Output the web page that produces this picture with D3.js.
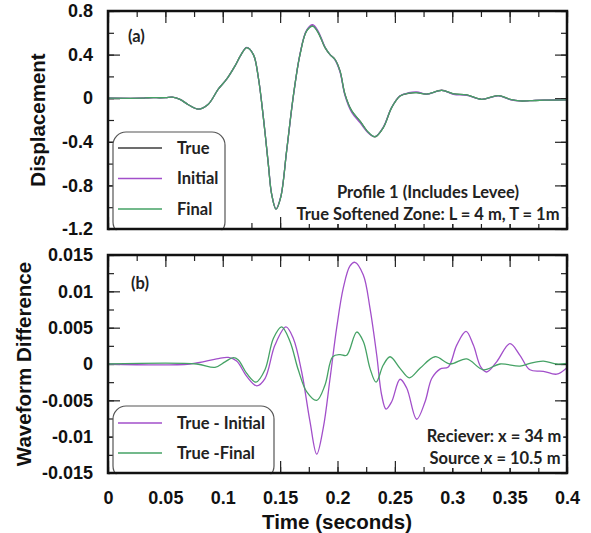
<!DOCTYPE html>
<html>
<head>
<meta charset="utf-8">
<script src="https://cdn.jsdelivr.net/npm/d3@7"></script>
<style>
  body { margin: 0; background: #fff; }
  svg { display: block; }
  .tick text { font-family: 'Liberation Sans', Arial, sans-serif; font-weight: bold; font-size: 18px; fill: #111; }
  .tick line { stroke: #222; stroke-width: 1.2px; }
  .axis-title { font-family: 'Liberation Sans', Arial, sans-serif; font-weight: bold; font-size: 20.5px; fill: #111; }
  .note { font-family: Lato, 'Open Sans', sans-serif; font-weight: bold; font-size: 16.5px; fill: #222; }
</style>
</head>
<body>
<div id="chart"></div>
<script>
// ---- data ----
// panel (a): displacement traces
const timeA = [0, 0.03, 0.035, 0.05, 0.056, 0.0627, 0.07, 0.0787, 0.0874, 0.0961, 0.1034, 0.1107, 0.116, 0.1209, 0.1267, 0.131, 0.1354, 0.1397, 0.1426, 0.1464, 0.1505, 0.1557, 0.1615, 0.1673, 0.1731, 0.1784, 0.1833, 0.1891, 0.1935, 0.1978, 0.2022, 0.2065, 0.2124, 0.2196, 0.2269, 0.2327, 0.2399, 0.2472, 0.2545, 0.262, 0.269, 0.2777, 0.2908, 0.301, 0.3126, 0.3256, 0.3401, 0.3503, 0.359, 0.3677, 0.38, 0.4];
const trueDisp = [0, 0, 0.004, 0.005, 0.01, -0.01, -0.06, -0.10, -0.055, 0.083, 0.174, 0.296, 0.40, 0.464, 0.40, 0.19, -0.178, -0.605, -0.88, -1.018, -0.91, -0.48, 0.02, 0.40, 0.617, 0.663, 0.60, 0.464, 0.40, 0.357, 0.25, 0.037, -0.117, -0.21, -0.315, -0.355, -0.27, -0.086, 0.02, 0.045, 0.051, 0.037, 0.073, 0.04, 0.03, -0.01, 0.024, -0.01, -0.025, -0.023, -0.018, -0.016];
const initialDisp = [0, 0, 0.004, 0.005, 0.01, -0.01, -0.06, -0.10, -0.055, 0.083, 0.174, 0.296, 0.40, 0.466, 0.40, 0.19, -0.176, -0.60, -0.877, -1.015, -0.905, -0.483, 0.015, 0.405, 0.625, 0.674, 0.612, 0.47, 0.40, 0.352, 0.24, 0.025, -0.13, -0.224, -0.32, -0.352, -0.265, -0.084, 0.022, 0.05, 0.058, 0.037, 0.071, 0.036, 0.026, -0.01, 0.021, -0.012, -0.025, -0.022, -0.017, -0.016];
const finalDisp = [0, 0, 0.004, 0.005, 0.01, -0.01, -0.06, -0.10, -0.055, 0.083, 0.174, 0.296, 0.40, 0.464, 0.40, 0.19, -0.178, -0.605, -0.88, -1.018, -0.91, -0.48, 0.02, 0.40, 0.617, 0.66, 0.60, 0.466, 0.40, 0.355, 0.248, 0.035, -0.117, -0.21, -0.313, -0.353, -0.27, -0.086, 0.02, 0.046, 0.051, 0.037, 0.072, 0.04, 0.03, -0.01, 0.024, -0.01, -0.025, -0.023, -0.018, -0.016];

// panel (b): waveform differences
const timeInit = [0, 0.0715, 0.0947, 0.1049, 0.1121, 0.1209, 0.1296, 0.1368, 0.1455, 0.1551, 0.1615, 0.1688, 0.176, 0.1819, 0.1876, 0.1935, 0.1993, 0.2051, 0.2109, 0.2152, 0.2225, 0.2283, 0.2342, 0.2385, 0.2423, 0.2472, 0.2545, 0.2603, 0.269, 0.2763, 0.2821, 0.2893, 0.2966, 0.3039, 0.312, 0.3184, 0.3248, 0.33, 0.3387, 0.3503, 0.359, 0.3677, 0.3794, 0.391, 0.4];
const diffInit = [0, 0, 0.0007, 0.0009, 0.0004, -0.0017, -0.003, -0.002, 0.0026, 0.0051, 0.0035, -0.0011, -0.0079, -0.0124, -0.0088, -0.002, 0.005, 0.0105, 0.0135, 0.014, 0.01225, 0.0077, 0.0012, -0.0043, -0.0062, -0.0052, -0.0021, -0.0033, -0.0076, -0.0052, -0.002, -0.0007, -0.0004, 0.0026, 0.0045, 0.0026, -0.0004, -0.0011, 0.0003, 0.0028, 0.0012, -0.0008, -0.001, -0.0014, -0.0005];
const timeFinal = [0, 0.0773, 0.0932, 0.102, 0.1092, 0.1136, 0.1209, 0.129, 0.1368, 0.1441, 0.1513, 0.1586, 0.1658, 0.1731, 0.1819, 0.1891, 0.1958, 0.2022, 0.208, 0.2167, 0.2225, 0.2283, 0.2336, 0.2399, 0.2458, 0.2545, 0.2626, 0.2719, 0.285, 0.298, 0.3126, 0.327, 0.3416, 0.359, 0.3677, 0.3794, 0.391, 0.4];
const diffFinal = [0, 0, -0.00046, 0.0003, 0.00087, 0.00055, -0.0013, -0.0025, -0.0008, 0.0035, 0.0051, 0.0031, -0.0008, -0.0038, -0.005, -0.0029, 0.001, 0.0013, 0.0012, 0.0044, 0.0031, -0.0006, -0.0025, -0.00014, 0.001, -0.0006, -0.0019, -0.0006, 0.001, 0, 0.0007, -0.0008, 0, -0.0003, 0.0001, 0.0004, 0, 0.0001];

// tick labels
const xTicks = [0, 0.05, 0.1, 0.15, 0.2, 0.25, 0.3, 0.35, 0.4];
const xTickLabels = ['0', '0.05', '0.1', '0.15', '0.2', '0.25', '0.3', '0.35', '0.4'];
const yTicksA = [0.8, 0.4, 0, -0.4, -0.8, -1.2];
const yTickLabelsA = ['0.8', '0.4', '0', '-0.4', '-0.8', '-1.2'];
const yTicksB = [0.015, 0.01, 0.005, 0, -0.005, -0.01, -0.015];
const yTickLabelsB = ['0.015', '0.01', '0.005', '0', '-0.005', '-0.01', '-0.015'];

const colors = { truth: '#3d3d3d', initial: '#a24fca', final: '#45a265' };

const W = 591, H = 533;
const left = 108, right = 567;

const svg = d3.select('#chart').append('svg')
  .attr('width', W)
  .attr('height', H);

const x = d3.scaleLinear().domain([0, 0.4]).range([left, right]);

function drawPanel(cfg) {
  const y = d3.scaleLinear().domain(cfg.domain).range([cfg.bottom, cfg.top]);
  const g = svg.append('g');
  const minorX = d3.range(0, 0.4001, 0.025);
  const minorY = d3.range(cfg.domain[0], cfg.domain[1] + cfg.minor / 2, cfg.minor);

  // inward ticks on all four sides
  const addAxis = (axis, transform) => {
    const a = g.append('g').attr('transform', transform).call(axis);
    a.select('.domain').remove();
    return a;
  };
  addAxis(d3.axisBottom(x).tickValues(minorX).tickSize(-6).tickFormat(''), `translate(0,${cfg.bottom})`);
  addAxis(d3.axisTop(x).tickValues(minorX).tickSize(-6).tickFormat(''), `translate(0,${cfg.top})`);
  addAxis(d3.axisTop(x).tickValues(xTicks).tickSize(-12).tickFormat(''), `translate(0,${cfg.top})`);
  addAxis(d3.axisBottom(x).tickValues(xTicks).tickSize(-12).tickPadding(18)
    .tickFormat((d, i) => cfg.showX ? xTickLabels[i] : ''), `translate(0,${cfg.bottom})`);

  addAxis(d3.axisLeft(y).tickValues(minorY).tickSize(-6).tickFormat(''), `translate(${left},0)`);
  addAxis(d3.axisRight(y).tickValues(minorY).tickSize(-6).tickFormat(''), `translate(${right},0)`);
  addAxis(d3.axisRight(y).tickValues(cfg.ticks).tickSize(-12).tickFormat(''), `translate(${right},0)`);
  addAxis(d3.axisLeft(y).tickValues(cfg.ticks).tickSize(-12).tickPadding(15)
    .tickFormat((d, i) => cfg.tickLabels[i]), `translate(${left},0)`);

  // traces
  const line = d3.line()
    .x(d => x(d[0]))
    .y(d => y(d[1]))
    .curve(d3.curveCatmullRom.alpha(0.5));

  const clipId = 'clip-' + cfg.name;
  svg.append('clipPath').attr('id', clipId)
    .append('rect').attr('x', left).attr('y', cfg.top).attr('width', right - left).attr('height', cfg.bottom - cfg.top);

  cfg.series.forEach(s => {
    g.append('path')
      .datum(d3.zip(s.t, s.v))
      .attr('clip-path', `url(#${clipId})`)
      .attr('fill', 'none')
      .attr('stroke', s.color)
      .attr('stroke-width', 1.3)
      .attr('d', line);
  });

  // legend box
  const lg = g.append('g');
  lg.append('rect')
    .attr('x', 113).attr('y', cfg.legend.y)
    .attr('width', cfg.legend.w).attr('height', cfg.bottom - cfg.legend.y + 6)
    .attr('rx', 13)
    .attr('fill', '#fff')
    .attr('stroke', '#555')
    .attr('stroke-width', 1.2);
  // cover the part below the frame
  lg.append('rect').attr('x', 110).attr('y', cfg.bottom + 1.2).attr('width', cfg.legend.w + 10).attr('height', 8).attr('fill', '#fff');
  cfg.series.filter(s => s.label).forEach((s, i) => {
    const ly = cfg.legend.first + i * cfg.legend.step;
    lg.append('line')
      .attr('x1', 118).attr('x2', 162)
      .attr('y1', ly).attr('y2', ly)
      .attr('stroke', s.color).attr('stroke-width', 1.3);
    lg.append('text').attr('class', 'note')
      .attr('x', 177).attr('y', ly + 5.5)
      .text(s.label);
  });

  g.append('text').attr('class', 'note')
    .attr('x', cfg.tag.x).attr('y', cfg.tag.y)
    .text(cfg.tag.text);

  // annotations get a white box so the inner ticks don't run through them
  cfg.notes.forEach(n => {
    const bg = g.append('rect').attr('fill', '#fff');
    const t = g.append('text').attr('class', 'note')
      .attr('x', n.x).attr('y', n.y)
      .attr('text-anchor', 'middle')
      .text(n.text);
    const b = t.node().getBBox();
    bg.attr('x', b.x - 2).attr('y', b.y).attr('width', b.width + 4).attr('height', b.height);
  });

  // frame
  g.append('rect')
    .attr('x', left).attr('y', cfg.top)
    .attr('width', right - left).attr('height', cfg.bottom - cfg.top)
    .attr('fill', 'none')
    .attr('stroke', '#111')
    .attr('stroke-width', 2.5);

  g.append('text').attr('class', 'axis-title')
    .attr('transform', `translate(${cfg.titleX},${(cfg.top + cfg.bottom) / 2}) rotate(-90)`)
    .attr('text-anchor', 'middle')
    .attr('dy', '0.35em')
    .text(cfg.title);

  return g;
}

drawPanel({
  name: 'a',
  top: 11, bottom: 229,
  domain: [-1.2, 0.8],
  minor: 0.2,
  ticks: yTicksA,
  tickLabels: yTickLabelsA,
  showX: false,
  series: [
    { t: timeA, v: trueDisp, color: colors.truth, label: 'True' },
    { t: timeA, v: initialDisp, color: colors.initial, label: 'Initial' },
    { t: timeA, v: finalDisp, color: colors.final, label: 'Final' }
  ],
  legend: { y: 132, w: 112, first: 148, step: 30.5 },
  tag: { x: 128, y: 42, text: '(a)' },
  notes: [
    { x: 428, y: 198, text: 'Profile 1 (Includes Levee)' },
    { x: 428, y: 220, text: 'True Softened Zone: L = 4 m, T = 1m' }
  ],
  title: 'Displacement',
  titleX: 38
});

drawPanel({
  name: 'b',
  top: 255, bottom: 473,
  domain: [-0.015, 0.015],
  minor: 0.0025,
  ticks: yTicksB,
  tickLabels: yTickLabelsB,
  showX: true,
  series: [
    { t: timeInit, v: diffInit, color: colors.initial, label: 'True - Initial' },
    { t: timeFinal, v: diffFinal, color: colors.final, label: 'True -Final' }
  ],
  legend: { y: 406, w: 161, first: 423, step: 30 },
  tag: { x: 131, y: 289, text: '(b)' },
  notes: [
    { x: 494, y: 442, text: 'Reciever: x = 34 m' },
    { x: 495, y: 464, text: 'Source x = 10.5 m' }
  ],
  title: 'Waveform Difference',
  titleX: 24
});

svg.append('text').attr('class', 'axis-title')
  .attr('x', 337).attr('y', 529)
  .attr('text-anchor', 'middle')
  .text('Time (seconds)');
</script>
</body>
</html>
